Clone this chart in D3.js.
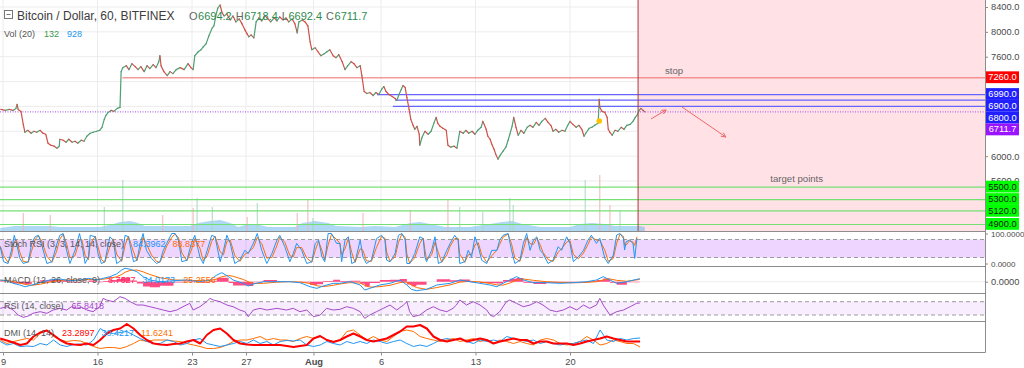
<!DOCTYPE html>
<html>
<head>
<meta charset="utf-8">
<script src="https://cdnjs.cloudflare.com/ajax/libs/d3/7.8.5/d3.min.js"></script>
<style>
  html, body { margin: 0; padding: 0; background: #fff; }
  svg { display: block; font-family: "Liberation Sans", Arial, sans-serif; }
</style>
</head>
<body>
<svg id="chart" width="1024" height="368"></svg>
<script>
// ---- dados (horas contadas a partir de 9 jul 2018 00:00) ----
const dateTicks = ["2018-07-09", "2018-07-16", "2018-07-23", "2018-07-27", "2018-08-01", "2018-08-06", "2018-08-13", "2018-08-20"];
const dateLabels = ["9", "16", "23", "27", "Aug", "6", "13", "20"];
const priceTicks = [5200, 5600, 6000, 6400, 6800, 7200, 7600, 8000, 8400];

const priceHours = [-4,4,11,18,23,25,27,32,36,39,44,50,55,60,66,71,76,80,85,91,96,100,101,107,112,117,123,128,133,139,144,149,155,160,167,172,176,180,183,187,192,197,203,208,210,213,219,224,229,235,240,245,251,256,261,267,272,277,279,281,286,292,297,302,308,315,322,329,334,338,341,347,352,356,361,366,372,375,379,382,386,389,393,398,404,409,414,420,425,430,434,437,441,446,450,455,460,466,471,476,482,487,492,498,503,508,514,519,523,526,532,537,542,546,549,555,560,565,571,576,581,587,592,597,603,608,613,619,624,629,635,638,642,647,652,658,663,668,674,677,681,686,692,697,700,704,708,711,715,718,722,725,729,732,736,740,741,745,750,756,761,766,770,773,777,782,788,791,796,802,807,812,818,823,828,834,839,844,850,853,859,862,866,869,873,876,880,884,889,894,898,901,905,908,912,916,921,926,932,937,942,948,953,958,964,969,974,978,983,988,994,999,1004,1008,1013,1019,1024,1029,1033,1036,1042,1047,1052,1058,1060,1061,1065,1070,1074,1076,1079,1083,1088,1093,1099,1104,1109,1115,1120,1124,1127,1131,1134,1138,1141];
const priceValues = [6752,6736,6752,6736,6768,6832,6752,6720,6512,6384,6416,6368,6400,6384,6416,6368,6352,6208,6176,6160,6128,6160,6272,6256,6224,6272,6224,6240,6208,6256,6240,6320,6368,6384,6400,6416,6464,6592,6656,6704,6736,6720,6768,6784,7360,7424,7456,7392,7488,7440,7392,7440,7360,7456,7408,7472,7424,7520,7616,7456,7360,7296,7360,7328,7392,7424,7392,7488,7424,7392,7616,7680,7712,7760,7808,7936,8064,8096,8288,8384,8432,8320,8256,8288,8192,8256,8160,8208,8128,8032,7968,7920,7952,7904,8160,8224,8176,8256,8208,8160,8224,8176,8240,8192,8224,8160,8208,8128,7984,8160,8192,8160,8096,7840,7712,7744,7680,7616,7648,7680,7712,7616,7584,7632,7520,7392,7456,7520,7488,7424,7456,7296,7040,7008,7024,6976,7024,6992,7088,7120,7040,6992,6960,6928,6896,6992,7072,7136,7104,6944,6752,6592,6496,6432,6480,6352,6176,6304,6400,6352,6400,6528,6624,6528,6480,6448,6416,6176,6144,6160,6128,6400,6368,6416,6368,6400,6352,6416,6464,6560,6432,6320,6272,6192,6112,6032,5952,6016,6080,6144,6256,6352,6480,6624,6464,6336,6416,6368,6464,6496,6464,6544,6496,6560,6608,6544,6496,6400,6432,6384,6416,6400,6496,6560,6512,6464,6496,6432,6320,6368,6448,6464,6496,6528,6912,6784,6720,6704,6624,6432,6384,6336,6416,6400,6464,6432,6496,6512,6560,6624,6656,6736,6768,6736,6712];

const volMaHours = [-5,21,84,101,172,190,208,226,240,252,332,347,368,386,404,418,436,457,471,519,532,555,578,592,635,661,697,724,741,759,786,830,866,887,905,923,955,1008,1026,1047,1070,1088,1132,1141];
const volMaValues = [720,1200,1200,960,960,1440,2160,2400,1920,1200,1200,1920,2400,2640,1920,960,1680,1440,960,960,1920,2400,1920,1200,960,1200,960,1920,2160,1680,960,960,1680,2160,2400,1680,960,960,1680,1920,1680,1200,1200,960];
const volSpikeHours = [36,84,180,213,284,338,345,372,434,452,523,542,551,640,724,791,812,853,901,907,1035,1061,1079,1097];
const volSpikeValues = [4320,3840,5760,12240,3840,5520,7920,5760,3360,6720,4320,7440,3120,4320,5040,7440,5760,4560,7920,6240,12240,13440,6240,5040];

// níveis desenhados pelo autor
const stopLevel = 7260;
const stopStartHour = 212;
const entryLevels = [6990, 6900, 6800];
const entryStartHours = [665, 697, 693];
const lastPrice = 6711.7;
const targetLevels = [5500, 5300, 5120, 4900];
const forecastStartHour = 1129;
const arrowHours = [[1152, 1179], [1207, 1285]];
const arrowPrices = [[6598, 6743], [6791, 6308]];
const markerHour = 1060, markerPrice = 6566;
const noteTexts = ["stop", "target points"];
const noteHours = [1193, 1411];
const notePrices = [7375, 5633];

const ohlc = [6694.2, 6718.4, 6692.4, 6711.7];
const volLegend = [132, 928];

const stochT = [-5,1,9,15,20,24,30,36,45,51,57,63,69,78,87,95,101,107,113,119,128,136,140,146,152,155,164,169,175,181,190,196,202,211,217,223,232,238,244,249,255,264,273,279,285,291,300,306,312,318,327,335,341,350,356,363,371,377,386,392,398,404,412,421,430,436,445,452,460,469,478,487,492,501,510,516,522,531,540,549,555,561,567,572,578,584,593,
  599,602,608,614,620,626,635,640,646,655,664,673,679,682,688,697,703,709,715,718,723,732,741,747,750,753,762,768,774,780,789,795,803,809,812,821,827,833,839,845,851,860,869,878,883,889,898,904,910,919,925,931,937,943,949,955,960,969,978,987,993,1002,1008,1014,1023,1032,1040,1046,1055,
  1061,1070,1076,1085,1091,1097,1103,1105,1108,1114,1120,1123,1127];
const stochK = [56,6,0,44,94,67,17,0,6,67,89,94,61,0,6,61,94,100,44,0,44,100,67,0,22,94,89,33,0,6,89,78,0,11,94,89,6,11,67,100,44,17,0,6,44,67,100,100,78,6,11,67,94,22,0,44,94,89,6,44,94,67,0,11,44,33,67,100,44,0,33,78,94,56,6,33,67,44,0,6,67,78,22,6,100,100,67,
  67,6,78,89,0,6,78,22,0,11,83,94,78,11,6,33,94,100,78,0,0,33,89,83,22,6,44,89,0,6,44,67,94,78,0,6,44,22,89,56,11,0,44,44,78,94,100,44,0,11,67,100,44,78,89,44,33,0,11,56,44,89,67,6,22,44,78,94,67,
  84,17,0,28,95,100,84,45,73,78,67,17,84];
const stochD = [58,26,4,26,74,78,37,7,4,43,80,92,74,24,4,39,81,98,66,18,26,78,80,27,13,65,91,55,13,4,56,82,31,7,61,91,39,9,45,87,66,28,7,4,29,58,87,98,87,35,9,45,83,51,9,26,74,91,39,29,74,78,27,7,31,37,53,87,66,18,20,60,88,71,26,22,53,53,18,4,43,74,44,12,62,97,80,
  67,30,49,85,36,4,49,44,9,7,54,90,84,38,8,22,70,98,87,31,0,20,67,85,46,12,29,71,36,4,29,58,83,84,31,4,29,31,62,69,29,4,26,44,64,88,98,66,18,7,45,87,66,64,85,62,37,13,7,38,49,71,76,30,16,35,64,88,78,
  77,44,7,17,68,98,90,61,62,76,71,60,89];
const stochLast = [84.3962, 88.8377];

const macdHours = [-5,7,18,30,39,51,66,83,101,119,137,152,167,178,190,202,211,217,226,238,249,261,279,303,326,350,368,380,389,401,409,427,436,445,463,487,510,528,546,558,569,587,599,617,635,643,652,670,688,706,718,726,735,753,771,795,812,830,848,866,878,889,901,913,925,943,966,990,1014,1038,1055,1067,1079,1091,1109,1132];
const macdValues = [19,11,-18,-37,-56,-37,-11,19,30,11,19,37,19,37,56,86,130,149,138,111,56,19,0,11,19,0,19,74,100,56,19,-18,-48,-26,0,0,0,-11,-56,-74,-48,-18,-18,0,-37,-93,-74,-37,-18,19,-37,-85,-100,-85,-37,-18,19,0,-18,-37,-56,-18,19,56,19,-11,-11,-18,-11,0,19,56,19,-18,0,34];
const signalValues = [15,14,2,-15,-30,-40,-28,-5,15,20,17,25,26,28,38,55,80,105,125,130,110,80,45,20,15,12,10,30,55,70,60,25,0,-20,-18,-5,0,-3,-20,-45,-55,-40,-25,-10,-15,-40,-60,-55,-40,-10,-5,-35,-65,-85,-65,-35,-5,5,-3,-20,-35,-38,-15,15,30,15,0,-8,-12,-8,0,20,30,15,5,25];
const macdLast = [8.7627, 34.0173, 25.2556];

const rsiHours = [-5,7,18,27,36,45,53,66,78,89,101,113,122,131,140,149,160,172,178,184,196,208,217,226,238,249,261,273,285,297,309,320,332,338,350,362,368,374,386,398,409,421,430,436,445,457,469,487,504,516,528,540,552,564,575,587,599,611,623,635,643,652,664,676,688,700,712,718,723,729,741,753,765,777,789,800,806,812,824,836,848,860,866,872,883,895,901,913,925,937,949,960,972,984,996,1008,1020,1032,1043,1055,1061,1067,1073,1079,1091,1103,1115,1126,1132];
const rsiValues = [50,55,45,30,23,27,35,40,35,45,50,45,55,50,53,45,40,55,80,75,70,85,80,70,60,60,55,50,45,40,45,55,65,45,55,70,80,75,70,60,55,45,40,25,45,50,45,50,45,50,40,45,25,30,50,45,47,55,50,40,20,30,40,50,60,45,60,70,40,25,30,45,55,45,40,50,60,75,60,70,60,45,30,25,40,70,75,65,55,60,70,60,45,40,45,55,45,60,50,60,80,60,45,30,40,45,55,65,66];
const rsiLast = 65.8418;

// DMI amostrado em passo fixo
const dmiStartHour = -5, dmiStepHours = 11.85;
const adxValues = [29,25,21,16,19,33,41,45,36,26,19,17,16,19,16,26,39,46,49,58,49,36,26,19,17,16,18,19,23,26,19,36,46,49,39,26,19,17,16,16,16,16,16,14,12,14,16,29,34,26,22,26,
  33,39,33,26,23,26,29,36,43,53,53,56,49,33,26,23,26,29,23,26,29,26,19,23,26,29,26,26,19,23,23,19,19,19,16,19,23,26,29,33,29,26,23,23,23];
const plusDiValues = [23,16,19,13,14,13,19,16,26,16,13,17,18,16,26,49,41,39,41,43,36,29,23,19,19,26,23,16,19,26,29,19,16,13,16,19,23,19,26,19,23,16,23,25,24,26,16,13,16,23,19,16,
  23,19,23,19,26,23,19,23,26,19,13,16,13,19,26,29,26,29,23,19,26,23,26,23,33,29,26,23,26,19,23,19,16,19,19,23,26,19,46,26,23,29,26,29,30];
const minusDiValues = [26,19,23,26,29,26,39,46,33,26,23,25,24,19,13,9,11,11,9,13,19,26,23,26,26,26,24,23,19,16,13,9,9,11,16,23,26,26,29,33,26,29,26,26,23,29,33,29,33,26,23,26,
  43,46,36,26,33,26,23,33,43,46,43,33,29,26,23,26,29,23,26,29,23,26,19,26,23,19,23,19,16,26,29,26,19,16,19,23,33,26,16,19,26,23,19,19,12];
const dmiLast = [23.2897, 30.4217, 11.6241];

// ---- layout ----
const svg = d3.select("#chart");
const plotRight = 985;
const mainBottom = 231;
const parseDay = d3.timeParse("%Y-%m-%d");
const t0 = parseDay("2018-07-09");
const at = h => new Date(t0.getTime() + h * 3600e3);

const x = d3.scaleTime().domain([parseDay("2018-07-09"), parseDay("2018-08-20")]).range([3, 570]);
const yPrice = d3.scaleLinear().domain([4900, 8400]).range([224.5, 7]);
const yVol = d3.scaleLinear().domain([0, 12000]).range([mainBottom, 181]);
const yStoch = d3.scaleLinear().domain([0, 100]).range([263.5, 233.5]);
const yMacd = d3.scaleLinear().domain([0, 100]).range([281.7, 272.7]);
const yRsi = d3.scaleLinear().domain([30, 70]).range([315, 301.7]);
const yDmi = d3.scaleLinear().domain([0, 50]).range([353, 328]);

const C = { blue: "#2196f3", orange: "#ff6d00", red: "#ff0000", purple: "#a64ac9", up: "#4f9e74", down: "#cf5148" };

svg.append("defs").append("clipPath").attr("id", "clipMain")
  .append("rect").attr("x", 0).attr("y", 0).attr("width", plotRight).attr("height", mainBottom);

// grade
const grid = svg.append("g");
grid.selectAll("line.v").data(dateTicks).join("line").attr("class", "v")
  .attr("x1", d => x(parseDay(d))).attr("x2", d => x(parseDay(d)))
  .attr("y1", 0).attr("y2", 352).attr("stroke", "#ececec");
grid.selectAll("line.h").data(priceTicks).join("line").attr("class", "h")
  .attr("x1", 0).attr("x2", plotRight).attr("y1", d => yPrice(d)).attr("y2", d => yPrice(d))
  .attr("stroke", "#ececec");

// zona de projeção (rosa)
const fx = x(at(forecastStartHour));
svg.append("rect").attr("x", fx).attr("y", 0).attr("width", plotRight - fx).attr("height", mainBottom)
  .attr("fill", "#ffe1e6");

const main = svg.append("g").attr("clip-path", "url(#clipMain)");

// volume
main.append("path").datum(volMaValues)
  .attr("d", d3.area().x((d, i) => x(at(volMaHours[i]))).y0(yVol(0)).y1(d => yVol(d)))
  .attr("fill", "#6cb8ea").attr("opacity", 0.55);
const dirAt = h => {
  const i = Math.max(1, d3.bisectLeft(priceHours, h));
  return priceValues[Math.min(i, priceValues.length - 1)] >= priceValues[i - 1];
};
main.selectAll("line.vol").data(volSpikeValues).join("line").attr("class", "vol")
  .attr("x1", (d, i) => x(at(volSpikeHours[i]))).attr("x2", (d, i) => x(at(volSpikeHours[i])))
  .attr("y1", yVol(0)).attr("y2", d => yVol(d))
  .attr("stroke", (d, i) => dirAt(volSpikeHours[i]) ? "#a9d8bd" : "#efb4b4").attr("stroke-width", 1);

// linhas de nível
main.selectAll("line.tgt").data(targetLevels).join("line").attr("class", "tgt")
  .attr("x1", 0).attr("x2", plotRight).attr("y1", d => yPrice(d)).attr("y2", d => yPrice(d))
  .attr("stroke", "#74e074").attr("stroke-width", 1.2);
main.selectAll("line.entry").data(entryLevels).join("line").attr("class", "entry")
  .attr("x1", (d, i) => x(at(entryStartHours[i]))).attr("x2", plotRight)
  .attr("y1", d => yPrice(d)).attr("y2", d => yPrice(d))
  .attr("stroke", "#6464ff").attr("stroke-width", 1.2);
main.append("line").attr("x1", x(at(stopStartHour))).attr("x2", plotRight)
  .attr("y1", yPrice(stopLevel)).attr("y2", yPrice(stopLevel)).attr("stroke", "#ee6a6a").attr("stroke-width", 1);
main.append("line").attr("x1", 0).attr("x2", plotRight)
  .attr("y1", yPrice(lastPrice)).attr("y2", yPrice(lastPrice))
  .attr("stroke", "#b46cf0").attr("stroke-width", 1.2).attr("stroke-dasharray", "1,1.5");

// preço
const pts = priceHours.map((h, i) => [x(at(h)), yPrice(priceValues[i])]);
main.selectAll("line.px").data(d3.range(1, pts.length)).join("line").attr("class", "px")
  .attr("x1", i => pts[i - 1][0]).attr("y1", i => pts[i - 1][1])
  .attr("x2", i => pts[i][0]).attr("y2", i => pts[i][1])
  .attr("stroke", i => priceValues[i] >= priceValues[i - 1] ? C.up : C.down)
  .attr("stroke-width", 1.2).attr("stroke-linecap", "round");

main.append("circle").attr("cx", x(at(markerHour))).attr("cy", yPrice(markerPrice)).attr("r", 2.8).attr("fill", "#ffc400");

main.append("line").attr("x1", fx).attr("x2", fx).attr("y1", 0).attr("y2", mainBottom)
  .attr("stroke", "#a83a3a").attr("stroke-width", 1);

// setas
arrowHours.forEach((hs, i) => {
  const x1 = x(at(hs[0])), y1 = yPrice(arrowPrices[i][0]);
  const x2 = x(at(hs[1])), y2 = yPrice(arrowPrices[i][1]);
  const a = Math.atan2(y2 - y1, x2 - x1), L = 5;
  const path = d3.path();
  path.moveTo(x1, y1); path.lineTo(x2, y2);
  path.moveTo(x2 - L * Math.cos(a - 0.45), y2 - L * Math.sin(a - 0.45)); path.lineTo(x2, y2);
  path.lineTo(x2 - L * Math.cos(a + 0.45), y2 - L * Math.sin(a + 0.45));
  main.append("path").attr("d", path.toString()).attr("fill", "none").attr("stroke", "#f06868").attr("stroke-width", 1);
});
main.selectAll("text.note").data(noteTexts).join("text").attr("class", "note")
  .attr("x", (d, i) => x(at(noteHours[i]))).attr("y", (d, i) => yPrice(notePrices[i]))
  .attr("text-anchor", "middle").attr("dominant-baseline", "central")
  .attr("font-size", 9.6).attr("fill", "#666").text(d => d);

// ---- indicadores ----
function drawLine(hours, values, yScale, color, width) {
  svg.append("path").datum(values)
    .attr("d", d3.line().x((d, i) => x(at(hours[i]))).y(d => yScale(d)))
    .attr("fill", "none").attr("stroke", color).attr("stroke-width", width).attr("stroke-linejoin", "round");
}
function band(yScale, hi, lo, opacity) {
  svg.append("rect").attr("x", 0).attr("width", plotRight)
    .attr("y", yScale(hi)).attr("height", yScale(lo) - yScale(hi))
    .attr("fill", "#9915ff").attr("opacity", opacity);
  [hi, lo].forEach(v => svg.append("line").attr("x1", 0).attr("x2", plotRight)
    .attr("y1", yScale(v)).attr("y2", yScale(v))
    .attr("stroke", "#9c9c9c").attr("stroke-dasharray", "4,3"));
}

band(yStoch, 80, 20, 0.18);
drawLine(stochT, stochD, yStoch, C.orange, 1);
drawLine(stochT, stochK, yStoch, C.blue, 1);

svg.append("line").attr("x1", 0).attr("x2", plotRight).attr("y1", yMacd(0)).attr("y2", yMacd(0)).attr("stroke", "#eeeeee");
const hist = macdValues.map((v, i) => v - signalValues[i]);
svg.append("path").datum(hist)
  .attr("d", d3.area().x((d, i) => x(at(macdHours[i]))).y0(yMacd(0)).y1(d => yMacd(d)).curve(d3.curveStepAfter))
  .attr("fill", "#ff2a6d").attr("opacity", 0.85);
drawLine(macdHours, signalValues, yMacd, C.orange, 1);
drawLine(macdHours, macdValues, yMacd, C.blue, 1);

band(yRsi, 70, 30, 0.08);
drawLine(rsiHours, rsiValues, yRsi, C.purple, 1);

const dmiHours = adxValues.map((d, i) => dmiStartHour + i * dmiStepHours);
drawLine(dmiHours, minusDiValues, yDmi, C.orange, 1);
drawLine(dmiHours, plusDiValues, yDmi, C.blue, 1);
drawLine(dmiHours, adxValues, yDmi, C.red, 2);

// separadores
svg.selectAll("line.sep").data([231.5, 266.5, 293.5, 321.5, 352.5]).join("line").attr("class", "sep")
  .attr("x1", 0).attr("x2", plotRight + 0.5).attr("y1", d => d).attr("y2", d => d)
  .attr("stroke", "#8c8c8c");
svg.append("line").attr("x1", plotRight + 0.5).attr("x2", plotRight + 0.5).attr("y1", 0).attr("y2", 352.5).attr("stroke", "#8c8c8c");

// etiquetas coloridas no eixo de preço, empilhadas para não sobrepor
const tags = [{ v: stopLevel, fill: "#ff0000", ink: "#fff" }]
  .concat(entryLevels.map(v => ({ v, fill: "#1f1fff", ink: "#fff" })))
  .concat([{ v: lastPrice, fill: "#9a14ff", ink: "#fff" }])
  .concat(targetLevels.map(v => ({ v, fill: "#00ff00", ink: "#1a1a1a" })));
const tagH = 11.8;
let prevY = -Infinity;
tags.forEach(t => { t.y = Math.max(yPrice(t.v) - 0.6, prevY + tagH); prevY = t.y; });

// ---- eixos ----
function styleAxis(g) {
  g.select(".domain").remove();
  g.selectAll("text").attr("font-family", "Liberation Sans, Arial, sans-serif").attr("font-size", 9.3).attr("fill", "#4a4a4a");
  g.selectAll(".tick line").attr("stroke", "#8c8c8c");
}
// marcas de preço tapadas por uma etiqueta não aparecem no original
const hidden = v => tags.some(t => Math.abs(yPrice(v) - t.y) < tagH / 2 + 1);
svg.append("g").attr("transform", `translate(${plotRight},0)`)
  .call(d3.axisRight(yPrice).tickValues(priceTicks.filter(v => !hidden(v) || v === 5600))
    .tickFormat(d3.format(".1f")).tickSize(3).tickPadding(3))
  .call(styleAxis);
svg.append("g").attr("transform", `translate(${plotRight},0)`)
  .call(d3.axisRight(yStoch).tickValues([0, 100]).tickFormat(d3.format(".4f")).tickSize(3).tickPadding(3))
  .call(styleAxis)
  .selectAll("text").attr("font-size", 8);
svg.append("g").attr("transform", `translate(${plotRight},0)`)
  .call(d3.axisRight(yMacd).tickValues([0]).tickFormat(d3.format(".4f")).tickSize(3).tickPadding(3))
  .call(styleAxis);

const xAxis = svg.append("g").attr("transform", "translate(0,352.5)")
  .call(d3.axisBottom(x).tickValues(dateTicks.map(parseDay)).tickFormat((d, i) => dateLabels[i]).tickSize(3).tickPadding(3))
  .call(styleAxis);
xAxis.selectAll("text").attr("font-weight", (d, i) => dateLabels[i] === "Aug" ? "bold" : null);

const tagG = svg.append("g");
tagG.selectAll("rect").data(tags).join("rect")
  .attr("x", plotRight + 1).attr("width", 33).attr("y", d => d.y - tagH / 2).attr("height", tagH)
  .attr("fill", d => d.fill);
tagG.selectAll("text").data(tags).join("text")
  .attr("x", plotRight + 17.5).attr("y", d => d.y).attr("text-anchor", "middle").attr("dominant-baseline", "central")
  .attr("font-size", 9.3).attr("fill", d => d.ink).text(d => d3.format(".1f")(d.v));

// ---- legendas ----
function legend(x0, y, items, size) {
  let cx = x0;
  items.forEach(([txt, color, gap]) => {
    const t = svg.append("text").attr("x", cx).attr("y", y).attr("font-size", size).attr("fill", color).text(txt);
    cx += t.node().getComputedTextLength() + gap;
  });
}
svg.append("rect").attr("x", 4.5).attr("y", 10.5).attr("width", 8).attr("height", 8).attr("fill", "#fff").attr("stroke", "#777");
svg.append("line").attr("x1", 6.5).attr("x2", 10.5).attr("y1", 14.5).attr("y2", 14.5).attr("stroke", "#777");
legend(17, 19.5, [["Bitcoin / Dollar, 60, BITFINEX", "#3c3c3c", 0]], 12);
const f1 = d3.format(".1f"), f4 = d3.format(".4f");
legend(189, 19.5, ["O", "H", "L", "C"].flatMap((k, i) => [[k, "#666", 0.5], [f1(ohlc[i]), "#2f8a4c", 4]]), 11);
legend(4, 36.5, [["Vol (20)", "#555", 9], [String(volLegend[0]), "#3a9a4a", 8], [String(volLegend[1]), C.blue, 0]], 9);

legend(4, 246.5, [["Stoch RSI (3, 3, 14, 14, close)", "#555", 9], [f4(stochLast[0]), C.blue, 7], [f4(stochLast[1]), C.orange, 0]], 9);
legend(4, 282.5, [["MACD (12, 26, close, 9)", "#555", 8], [f4(macdLast[0]), "#ff1f5a", 7], [f4(macdLast[1]), C.blue, 8], [f4(macdLast[2]), C.orange, 0]], 9);
legend(4, 309, [["RSI (14, close)", "#555", 8], [f4(rsiLast), C.purple, 0]], 9);
legend(4, 335.5, [["DMI (14, 14)", "#555", 8], [f4(dmiLast[0]), C.red, 7], [f4(dmiLast[1]), C.blue, 7], [f4(dmiLast[2]), C.orange, 0]], 9);
</script>
</body>
</html>
